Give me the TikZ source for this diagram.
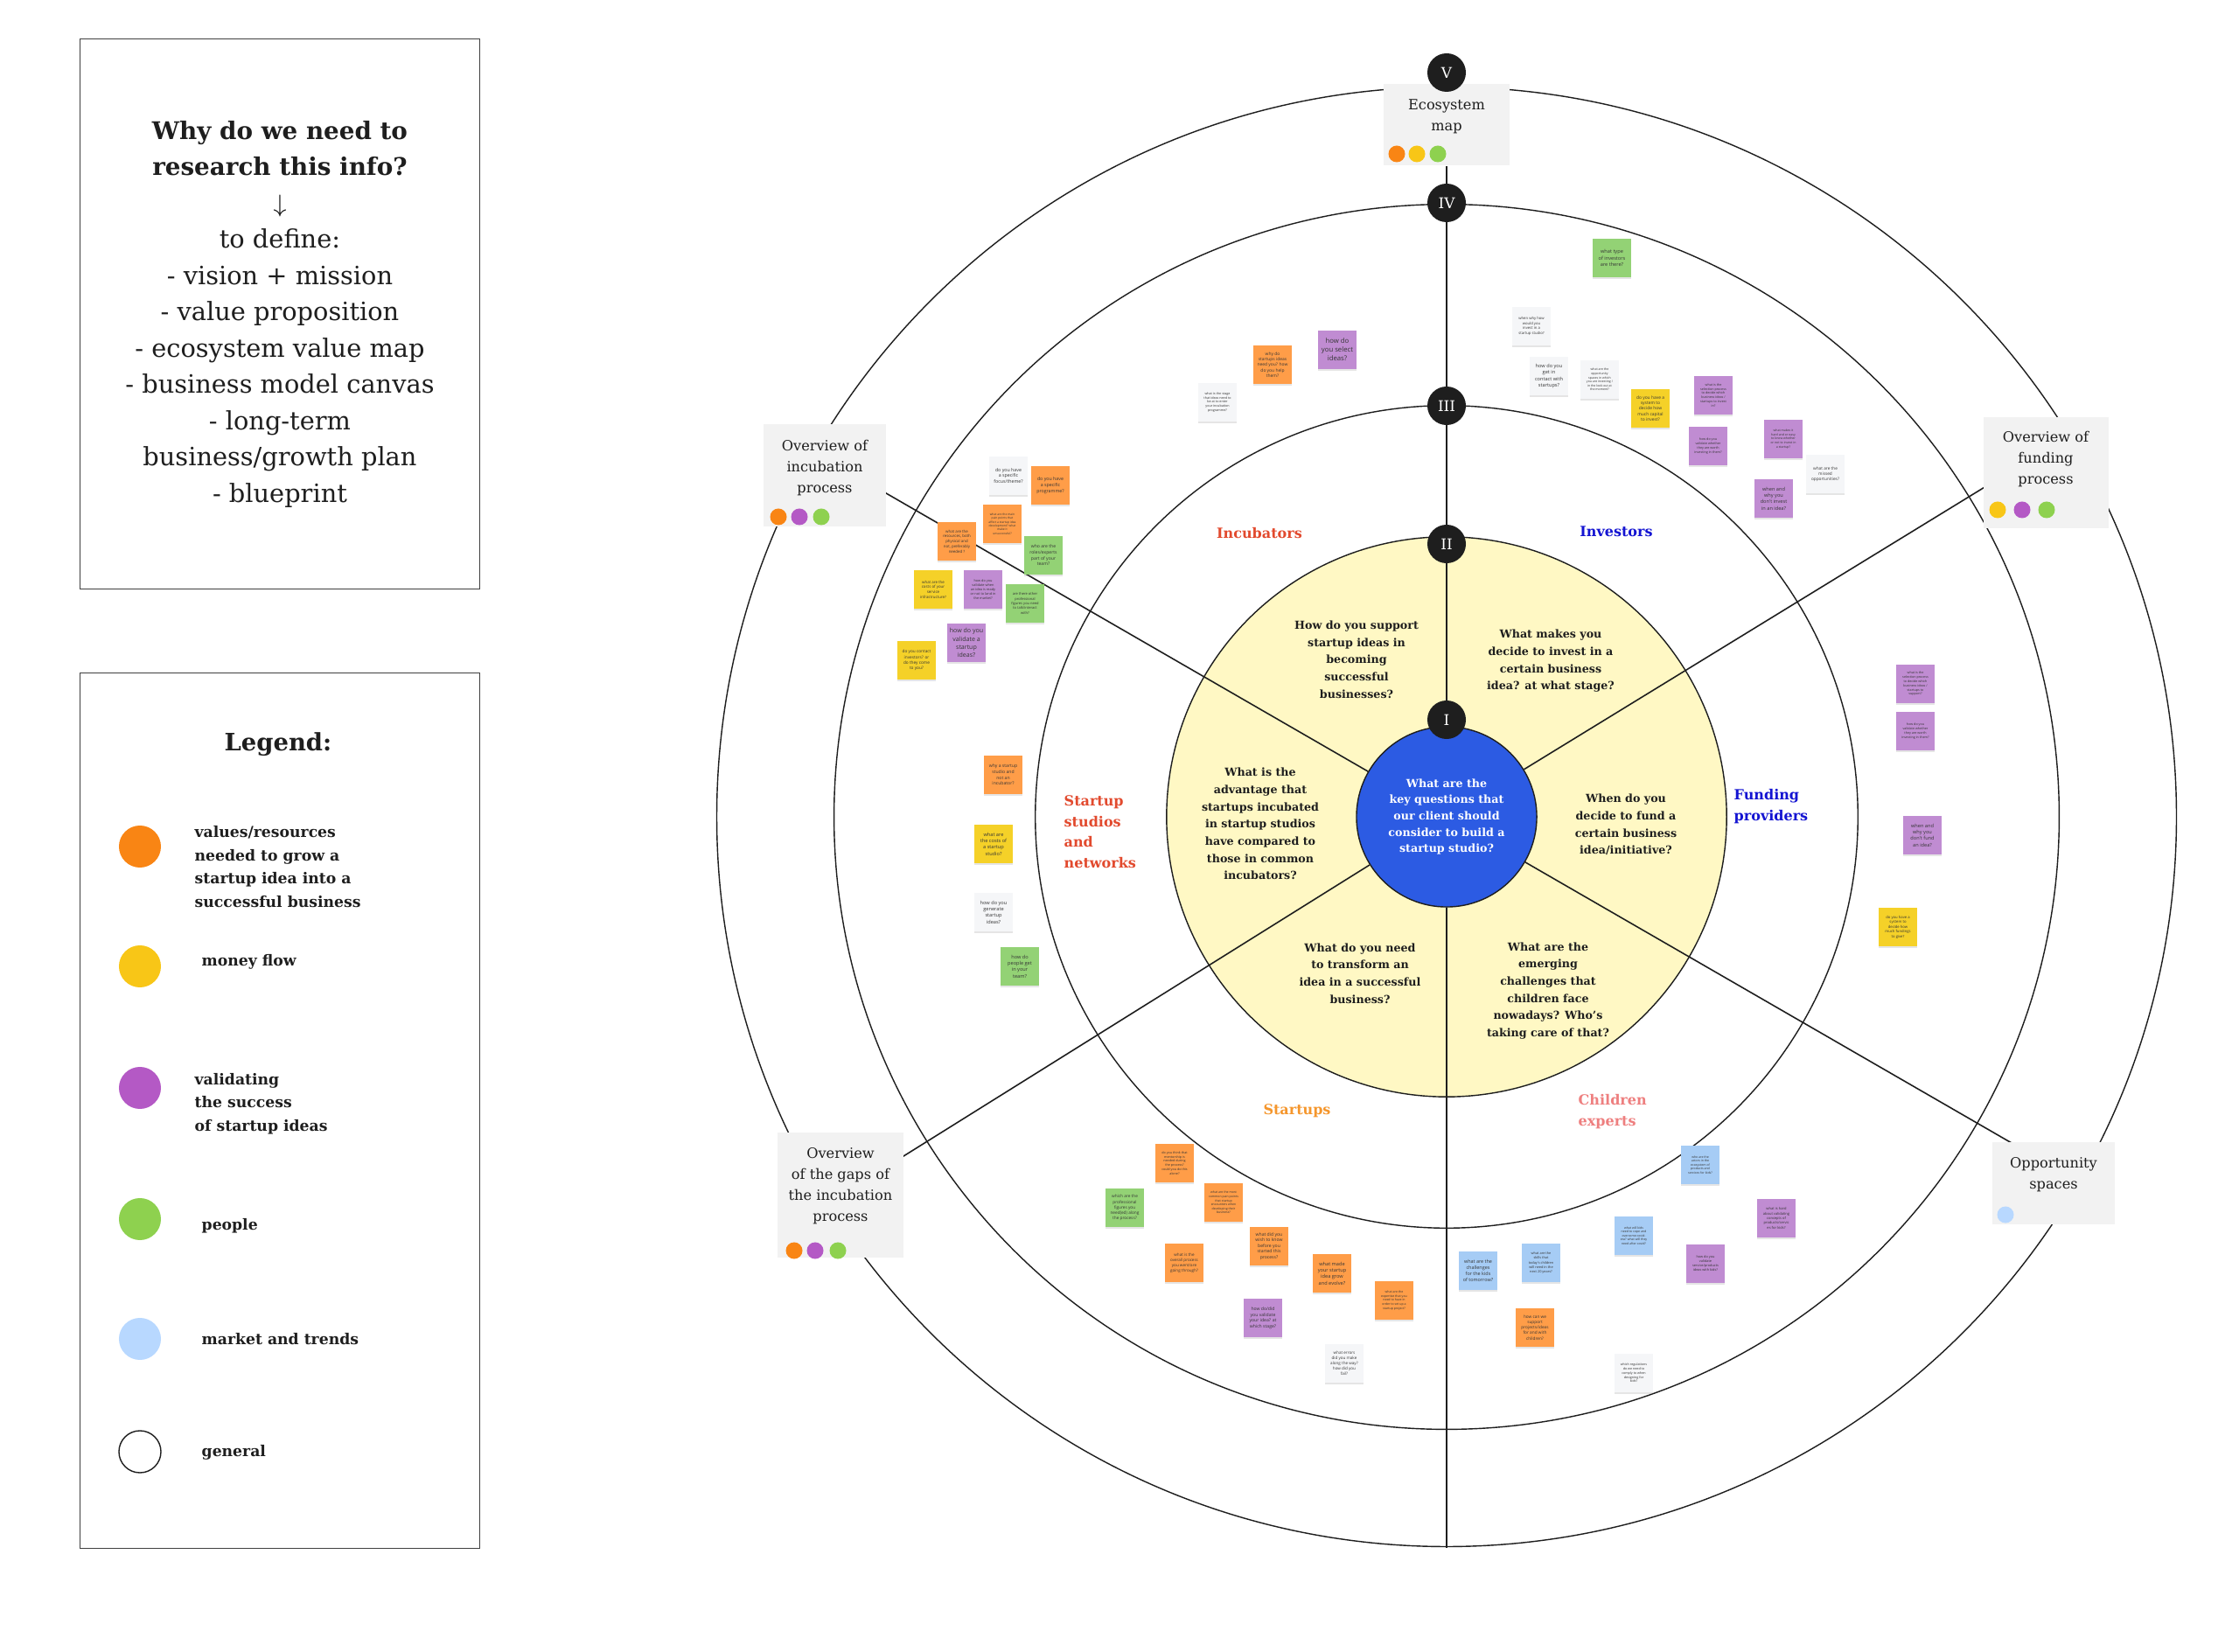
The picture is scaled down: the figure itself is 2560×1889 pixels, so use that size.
\documentclass[tikz,border=0pt]{standalone}
\usepackage{fontspec}
\setmainfont{DejaVu Serif}
\newfontfamily\notefont{Open Sans}
\usepackage{tikz}
\usetikzlibrary{calc,backgrounds,shadows}

\definecolor{dotorange}{HTML}{F98514}
\definecolor{dotyellow}{HTML}{F8C617}
\definecolor{dotpurple}{HTML}{B459C5}
\definecolor{dotgreen}{HTML}{8ED14F}
\definecolor{dotblue}{HTML}{B8D8FF}
\definecolor{noteorange}{HTML}{FF9D48}
\definecolor{noteyellow}{HTML}{F5D128}
\definecolor{notegreen}{HTML}{93D275}
\definecolor{notepurple}{HTML}{C08CD2}
\definecolor{noteblue}{HTML}{A6CCF5}
\definecolor{notewhite}{HTML}{F5F6F8}
\definecolor{panelgray}{HTML}{F2F2F2}
\definecolor{coreblue}{HTML}{2C5BE3}
\definecolor{diskyellow}{HTML}{FFF8C4}
\definecolor{redlabel}{HTML}{E24A2E}
\definecolor{bluelabel}{HTML}{1414D2}
\definecolor{orangelabel}{HTML}{F5962C}
\definecolor{pinklabel}{HTML}{EE7F7F}
\definecolor{ink}{HTML}{1E1E1E}

\newcommand\nsz[1]{\notefont\fontsize{#1}{\fpeval{1.3*#1}}\selectfont}

\begin{document}
\begin{tikzpicture}[x=0.01cm, y=-0.01cm,
    ring/.style={draw=ink, line width=0.4pt},
    spoke/.style={draw=ink, line width=0.45pt},
    lvl/.style={circle, fill=ink, text=white, minimum size=0.44cm, inner sep=0pt, font=\fontsize{4.8}{5}\selectfont},
    panel/.style={fill=panelgray, inner sep=0pt},
    ptitle/.style={align=center, text=ink, font=\fontsize{4.6}{6.8}\selectfont},
    dot/.style={circle, inner sep=0pt, minimum size=0.19cm},
    question/.style={align=center, text=ink, font=\bfseries\fontsize{3.6}{5.6}\selectfont},
    sector/.style={font=\bfseries\fontsize{4.55}{6.7}\selectfont},
    sticky/.style={minimum width=0.44cm, minimum height=0.44cm, inner sep=0pt, align=center, text=ink!90, font=\nsz{1.3},
        drop shadow={shadow xshift=0pt, shadow yshift=-0.7pt, opacity=0.2}},
    fs/.style={font=\nsz{#1}},
    legdot/.style={circle, inner sep=0pt, minimum size=0.48cm},
    legtext/.style={anchor=west, align=left, inner sep=0pt, text=ink, font=\bfseries\fontsize{4.9}{7.6}\selectfont}]

    %
    \useasboundingbox (0,0) rectangle (2560,1889);
    \coordinate (ctr) at (1654,934);
    \coordinate (eUR) at ([shift={(31.5:8.36cm)}]ctr);
    \coordinate (eLR) at ([shift={(-30:8.36cm)}]ctr);
    \coordinate (eLL) at ([shift={(212:8.36cm)}]ctr);
    \coordinate (eUL) at ([shift={(150:8.36cm)}]ctr);
    \coordinate (eB) at ([shift={(-90:8.36cm)}]ctr);

    \begin{scope}[on background layer]
        \fill[white] (0,0) rectangle (2560,1889);
        \fill[diskyellow] (ctr) circle[radius=3.2cm];
    \end{scope}

    %
    \draw[ring] (ctr) circle[radius=3.2cm];
    \draw[ring] (ctr) circle[radius=4.7cm];
    \draw[ring] (ctr) circle[radius=7.0cm];
    \draw[ring] (ctr) circle[radius=8.34cm];

    %
    \node[circle, fill=coreblue, draw=ink, line width=0.4pt, minimum size=2.06cm, inner sep=0pt, align=center, text=white,
        font=\bfseries\fontsize{3.6}{5.3}\selectfont] (core) at (ctr)
        {What are the\\key questions that\\our client should\\consider to build a\\startup studio?};

    %
    \node[panel, minimum width=1.44cm, minimum height=0.93cm] (ecobox) at (1654,142.5) {};
    \node[ptitle] (ecotxt) at (1654,133) {Ecosystem\\map};
    \node[dot, fill=dotorange] (eco1) at (1597,176) {};
    \node[dot, fill=dotyellow] (eco2) at (1620,176) {};
    \node[dot, fill=dotgreen] (eco3) at (1644,176) {};

    \node[panel, minimum width=1.40cm, minimum height=1.17cm] (incbox) at (943,543.5) {};
    \node[ptitle] (inctxt) at (943,535) {Overview of\\incubation\\process};
    \node[dot, fill=dotorange] (inc1) at (890,591) {};
    \node[dot, fill=dotpurple] (inc2) at (914,591) {};
    \node[dot, fill=dotgreen] (inc3) at (939,591) {};

    \node[panel, minimum width=1.43cm, minimum height=1.27cm] (funbox) at (2339.5,540.5) {};
    \node[ptitle] (funtxt) at (2339,525) {Overview of\\funding\\process};
    \node[dot, fill=dotyellow] (fun1) at (2284,583) {};
    \node[dot, fill=dotpurple] (fun2) at (2312,583) {};
    \node[dot, fill=dotgreen] (fun3) at (2340,583) {};

    \node[panel, minimum width=1.40cm, minimum height=0.94cm] (opbox) at (2348,1353) {};
    \node[ptitle] (optxt) at (2348,1343.5) {Opportunity\\spaces};
    \node[dot, fill=dotblue] (op1) at (2293,1389) {};

    \node[panel, minimum width=1.44cm, minimum height=1.43cm] (gapbox) at (961,1366.5) {};
    \node[ptitle] (gaptxt) at (961,1356) {Overview\\of the gaps of\\the incubation\\process};
    \node[dot, fill=dotorange] (gap1) at (908,1430) {};
    \node[dot, fill=dotpurple] (gap2) at (932,1430) {};
    \node[dot, fill=dotgreen] (gap3) at (958,1430) {};

    %
    \begin{scope}[on background layer]
        \draw[spoke] (core) -- (ecobox);
        \draw[spoke] (core) -- (eB);
        \draw[spoke] (core) -- (eUL);
        \draw[spoke] (core) -- (eUR);
        \draw[spoke] (core) -- (eLL);
        \draw[spoke] (core) -- (eLR);
    \end{scope}

    %
    \node[lvl] (lv5) at (1654,83) {V};
    \node[lvl] (lv4) at (1654,232) {IV};
    \node[lvl] (lv3) at (1654,464) {III};
    \node[lvl] (lv2) at (1654,622) {II};
    \node[lvl] (lv1) at (1654,823) {I};

    %
    \node[question] (q1) at (1551,754) {How do you support\\startup ideas in\\becoming\\successful\\businesses?};
    \node[question] (q2) at (1773,756) {What makes you\\decide to invest in a\\certain business\\idea? at what stage?};
    \node[question] (q3) at (1441,942) {What is the\\advantage that\\startups incubated\\in startup studios\\have compared to\\those in common\\incubators?};
    \node[question] (q4) at (1859,943) {When do you\\decide to fund a\\certain business\\idea/initiative?};
    \node[question] (q5) at (1555,1113) {What do you need\\to transform an\\idea in a successful\\business?};
    \node[question] (q6) at (1770,1133) {What are the\\emerging\\challenges that\\children face\\nowadays? Who's\\taking care of that?};

    %
    \node[sector, text=redlabel] (incl) at (1440,610) {Incubators};
    \node[sector, text=bluelabel] (invl) at (1848,608) {Investors};
    \node[sector, text=bluelabel, anchor=west, align=left, inner sep=0pt] (funl) at (1982,922) {Funding\\providers};
    \node[sector, text=redlabel, anchor=west, align=left, inner sep=0pt] (stul) at (1216,951) {Startup\\studios\\and\\networks};
    \node[sector, text=orangelabel] (stal) at (1483,1270) {Startups};
    \node[sector, text=pinklabel, anchor=west, align=left, inner sep=0pt] (kidl) at (1804,1271) {Children\\experts};

    %
    \node[sticky, fill=noteorange, fs=1.4] (ib1) at (1455,417) {why do\\startups ideas\\need you? how\\do you help\\them?};
    \node[sticky, fill=notepurple, fs=2.2] (ib2) at (1529,400) {how do\\you select\\ideas?};
    \node[sticky, fill=notewhite, fs=1.05] (ib3) at (1392,460) {what is the stage\\that ideas need to\\be at to enter\\your incubation\\programme?};

    \node[sticky, fill=notegreen, fs=1.6] (iv1) at (1843,295) {what type\\of investors\\are there?};
    \node[sticky, fill=notewhite, fs=1.2] (iv2) at (1751,373) {when why how\\would you\\invest in a\\startup studio?};
    \node[sticky, fill=notewhite, fs=1.6] (iv3) at (1771,430) {how do you\\get in\\contact with\\startups?};
    \node[sticky, fill=notewhite, fs=1.0] (iv4) at (1829,434) {what are the\\opportunity\\spaces in which\\you are investing /\\in the look out at\\the moment?};
    \node[sticky, fill=noteyellow, fs=1.4] (iv5) at (1887,467) {do you have a\\system to\\decide how\\much capital\\to invest?};
    \node[sticky, fill=notepurple, fs=1.05] (iv6) at (1959,452) {what is the\\selection process\\to decide which\\business ideas /\\startups to invest\\in?};
    \node[sticky, fill=notepurple, fs=1.05] (iv7) at (1953,510) {how do you\\validate whether\\they are worth\\investing in them?};
    \node[sticky, fill=notepurple, fs=1.0] (iv8) at (2039,502) {what makes it\\hard and or easy\\to know whether\\or not to invest in\\a startup?};
    \node[sticky, fill=notewhite, fs=1.35] (iv9) at (2087,542) {what are the\\missed\\opportunities?};
    \node[sticky, fill=notepurple, fs=1.6] (iv10) at (2028,570) {when and\\why you\\don't invest\\in an idea?};

    \node[sticky, fill=notewhite, fs=1.5] (ov1) at (1153,544) {do you have\\a specific\\focus/theme?};
    \node[sticky, fill=noteorange, fs=1.5] (ov2) at (1201,555) {do you have\\a specific\\programme?};
    \node[sticky, fill=noteorange, fs=0.95] (ov3) at (1146,599) {what are the main\\pain points that\\affect a startup idea\\development? what\\make it\\unsuccessful?};
    \node[sticky, fill=noteorange, fs=1.25] (ov4) at (1094,619) {what are the\\resources, both\\physical and\\not, preferably\\needed ?};
    \node[sticky, fill=notegreen, fs=1.45] (ov5) at (1193,635) {who are the\\roles/experts\\part of your\\team?};
    \node[sticky, fill=noteyellow, fs=1.25] (ov6) at (1067,674) {what are the\\costs of your\\service\\infrastructure?};
    \node[sticky, fill=notepurple, fs=1.1] (ov7) at (1124,674) {how do you\\validate when\\an idea is ready\\or not to land in\\the market?};
    \node[sticky, fill=notegreen, fs=1.15] (ov8) at (1172,690) {are there other\\professional\\figures you need\\to talk/interact\\with?};
    \node[sticky, fill=notepurple, fs=2.0] (ov9) at (1105,735) {how do you\\validate a\\startup\\ideas?};
    \node[sticky, fill=noteyellow, fs=1.35] (ov10) at (1048,755) {do you contact\\investors? or\\do they come\\to you?};

    \node[sticky, fill=noteorange, fs=1.45] (su1) at (1147,886) {why a startup\\studio and\\not an\\incubator?};
    \node[sticky, fill=noteyellow, fs=1.6] (su2) at (1136,965) {what are\\the costs of\\a startup\\studio?};
    \node[sticky, fill=notewhite, fs=1.6] (su3) at (1136,1043) {how do you\\generate\\startup\\ideas?};
    \node[sticky, fill=notegreen, fs=1.6] (su4) at (1166,1105) {how do\\people get\\in your\\team?};

    \node[sticky, fill=notepurple, fs=1.05] (fp1) at (2190,782) {what is the\\selection process\\to decide which\\business ideas /\\startups to\\support?};
    \node[sticky, fill=notepurple, fs=1.05] (fp2) at (2190,836) {how do you\\validate whether\\they are worth\\investing in them?};
    \node[sticky, fill=notepurple, fs=1.6] (fp3) at (2198,955) {when and\\why you\\don't fund\\an idea?};
    \node[sticky, fill=noteyellow, fs=1.2] (fp4) at (2170,1060) {do you have a\\system to\\decide how\\much  fundings\\to give?};

    \node[sticky, fill=noteorange, fs=1.05] (sp1) at (1343,1330) {do you think that\\mentorship is\\needed during\\the process?\\could you do this\\alone?};
    \node[sticky, fill=notegreen, fs=1.35] (sp2) at (1286,1381) {which are the\\professional\\figures you\\need(ed) along\\the process?};
    \node[sticky, fill=noteorange, fs=1.0] (sp3) at (1399,1375) {what are the most\\common pain points\\that startup\\encounters when\\developing their\\business?};
    \node[sticky, fill=noteorange, fs=1.45] (sp4) at (1451,1425) {what did you\\wish to know\\before you\\started this\\process?};
    \node[sticky, fill=noteorange, fs=1.3] (sp5) at (1354,1444) {what is the\\overall process\\you went/are\\going through?};
    \node[sticky, fill=noteorange, fs=1.6] (sp6) at (1523,1456) {what made\\your startup\\idea grow\\and evolve?};
    \node[sticky, fill=noteorange, fs=1.0] (sp7) at (1594,1487) {what are the\\expertise that you\\need to have in\\order to set up a\\startup project?};
    \node[sticky, fill=notepurple, fs=1.45] (sp8) at (1444,1507) {how do/did\\you validate\\your idea? at\\which stage?};
    \node[sticky, fill=notewhite, fs=1.3] (sp9) at (1537,1559) {what errors\\did you make\\along the way?\\how did you\\fail?};

    \node[sticky, fill=noteblue, fs=1.0] (ke1) at (1944,1332) {who are the\\actors in the\\ecosystem of\\products and\\services for kids?};
    \node[sticky, fill=notepurple, fs=1.15] (ke2) at (2031,1393) {what is hard\\about validating\\concepts of\\products/servic\\es for kids?};
    \node[sticky, fill=noteblue, fs=1.0] (ke3) at (1868,1413) {what will kids\\need to cope and\\overcome covid-\\era? what will they\\need after covid?};
    \node[sticky, fill=notepurple, fs=1.1] (ke4) at (1950,1445) {how do you\\validate\\service/products\\ideas with kids?};
    \node[sticky, fill=noteblue, fs=1.1] (ke5) at (1762,1444) {what are the\\skills that\\today's children\\will need in the\\next 20 years?};
    \node[sticky, fill=noteblue, fs=1.55] (ke6) at (1690,1453) {what are the\\challenges\\for the kids\\of tomorrow?};
    \node[sticky, fill=noteorange, fs=1.35] (ke7) at (1755,1518) {how can we\\support\\projects/ideas\\for and with\\children?};
    \node[sticky, fill=notewhite, fs=1.05] (ke8) at (1868,1570) {which regulations\\do we need to\\comply to when\\designing for\\kids?};

    %
    \node[draw=ink!85, line width=0.35pt, minimum width=4.56cm, minimum height=6.28cm, inner sep=0pt] (whybox) at (320,359) {};
    \node[align=center, text=ink, font=\fontsize{8.2}{11.8}\selectfont] (whytxt) at (320,359)
        {\textbf{\fontsize{7.9}{11.8}\selectfont Why do we need to}\\\textbf{\fontsize{7.9}{11.8}\selectfont research this info?}\\$\downarrow$\\to define:\\- vision + mission\\- value proposition\\- ecosystem value map\\- business model canvas\\- long-term\\business/growth plan\\- blueprint};

    \node[draw=ink!85, line width=0.35pt, minimum width=4.56cm, minimum height=10cm, inner sep=0pt] (legbox) at (320,1270) {};
    \node[text=ink, font=\bfseries\fontsize{7.8}{9}\selectfont] (legtitle) at (318,851) {Legend:};
    \node[legdot, fill=dotorange] (lg1) at (160,968) {};
    \node[legdot, fill=dotyellow] (lg2) at (160,1105) {};
    \node[legdot, fill=dotpurple] (lg3) at (160,1244) {};
    \node[legdot, fill=dotgreen] (lg4) at (160,1394) {};
    \node[legdot, fill=dotblue] (lg5) at (160,1531) {};
    \node[legdot, draw=ink, line width=0.4pt, fill=white] (lg6) at (160,1660) {};
    \node[legtext] (lt1) at (222,991) {values/resources\\needed to grow a\\startup idea into a\\successful business};
    \node[legtext] (lt2) at (230,1100) {money flow};
    \node[legtext] (lt3) at (222,1262) {validating\\the success\\of startup ideas};
    \node[legtext] (lt4) at (230,1402) {people};
    \node[legtext] (lt5) at (230,1531) {market and trends};
    \node[legtext] (lt6) at (230,1661) {general};

\end{tikzpicture}
\end{document}
